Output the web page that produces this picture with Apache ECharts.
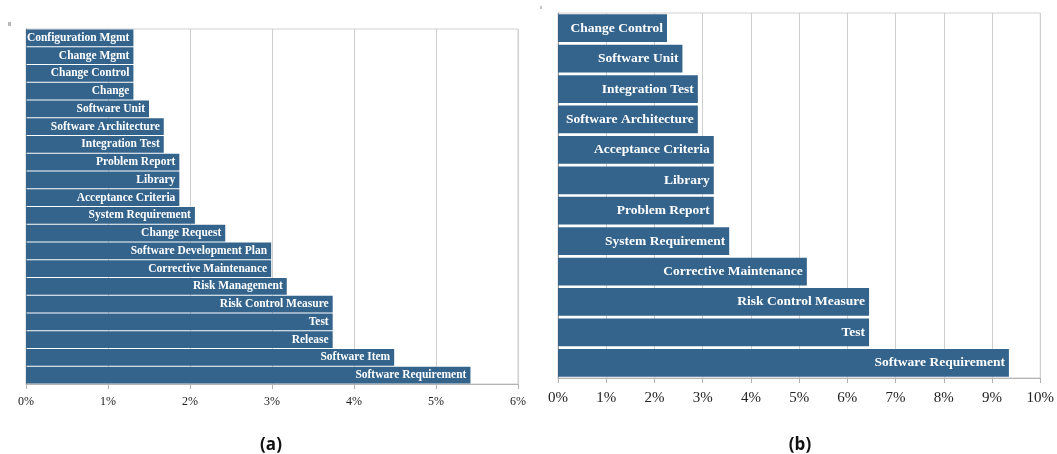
<!DOCTYPE html>
<html>
<head>
<meta charset="utf-8">
<script src="https://cdn.jsdelivr.net/npm/echarts@6/dist/echarts.min.js"></script>
<style>
  html, body { margin: 0; padding: 0; background: #fff; }
  #chart { width: 1057px; height: 454px; }
</style>
</head>
<body>
<div id="chart"></div>
<script>
// Panel (a): term frequencies, share of all occurrences (%)
const categoriesA = [
  'Configuration Mgmt', 'Change Mgmt', 'Change Control', 'Change', 'Software Unit',
  'Software Architecture', 'Integration Test', 'Problem Report', 'Library',
  'Acceptance Criteria', 'System Requirement', 'Change Request',
  'Software Development Plan', 'Corrective Maintenance', 'Risk Management',
  'Risk Control Measure', 'Test', 'Release', 'Software Item', 'Software Requirement'
];
const valuesA = [
  1.31, 1.31, 1.31, 1.31, 1.50,
  1.68, 1.68, 1.87, 1.87,
  1.87, 2.06, 2.43,
  2.99, 2.99, 3.18,
  3.74, 3.74, 3.74, 4.49, 5.42
];
const maxA = 6;

// Panel (b)
const categoriesB = [
  'Change Control', 'Software Unit', 'Integration Test', 'Software Architecture',
  'Acceptance Criteria', 'Library', 'Problem Report', 'System Requirement',
  'Corrective Maintenance', 'Risk Control Measure', 'Test', 'Software Requirement'
];
const valuesB = [
  2.26, 2.58, 2.90, 2.90,
  3.23, 3.23, 3.23, 3.55,
  5.16, 6.45, 6.45, 9.35
];
const maxB = 10;

const panelCaptions = ['(a)', '(b)'];

const barColor = '#34648c';
const gridColor = '#cfcfcf';
const serif = '"Liberation Serif", "Times New Roman", serif';

function valueAxis(gridIndex, max, fontSize, margin) {
  return {
    type: 'value', gridIndex, min: 0, max, interval: 1,
    axisLine: { show: true, lineStyle: { color: '#b3b3b3', width: 1 } },
    axisTick: { show: true, length: 5, lineStyle: { color: '#b3b3b3' } },
    axisLabel: { formatter: '{value}%', fontFamily: serif, fontSize, color: '#222', margin },
    splitLine: { show: true, lineStyle: { color: gridColor, width: 1 } }
  };
}

function categoryAxis(gridIndex, cats) {
  return {
    type: 'category', gridIndex, data: cats, inverse: true,
    axisLine: { show: true, lineStyle: { color: '#9a9a9a', width: 1 } },
    axisTick: { show: false },
    axisLabel: { show: false },
    splitLine: { show: false }
  };
}

function barSeries(idx, vals, fontSize, gap) {
  return {
    type: 'bar', xAxisIndex: idx, yAxisIndex: idx,
    data: vals,
    barCategoryGap: gap,
    itemStyle: { color: barColor },
    silent: true,
    label: {
      show: true, position: 'insideRight', distance: 4,
      formatter: p => (idx === 0 ? categoriesA : categoriesB)[p.dataIndex],
      fontFamily: serif, fontWeight: 'bold', fontSize, color: '#fff'
    }
  };
}

const chart = echarts.init(document.getElementById('chart'), null, { renderer: 'canvas' });
chart.setOption({
  animation: false,
  backgroundColor: '#fff',
  grid: [
    { left: 26, right: 539, top: 29, bottom: 70, show: true, borderColor: gridColor, borderWidth: 1 },
    { left: 558, right: 15, top: 13, bottom: 76, show: true, borderColor: gridColor, borderWidth: 1 }
  ],
  xAxis: [valueAxis(0, maxA, 12, 12), valueAxis(1, maxB, 15, 13)],
  yAxis: [categoryAxis(0, categoriesA), categoryAxis(1, categoriesB)],
  series: [barSeries(0, valuesA, 11.5, '6%'), barSeries(1, valuesB, 13.5, '9%')],
  graphic: [
    { type: 'rect', shape: { x: 8, y: 22, width: 3, height: 4 }, style: { fill: '#b8b8b8' } },
    { type: 'rect', shape: { x: 540, y: 6, width: 2, height: 3 }, style: { fill: '#c4c4c4' } },
    { type: 'text', x: 271, y: 445, style: { text: panelCaptions[0], fontFamily: '"Open Sans", "Noto Sans", sans-serif', fontWeight: 'bold', fontSize: 17, fill: '#111', align: 'center', verticalAlign: 'middle' } },
    { type: 'text', x: 800, y: 445, style: { text: panelCaptions[1], fontFamily: '"Open Sans", "Noto Sans", sans-serif', fontWeight: 'bold', fontSize: 17, fill: '#111', align: 'center', verticalAlign: 'middle' } }
  ]
});
</script>
</body>
</html>
